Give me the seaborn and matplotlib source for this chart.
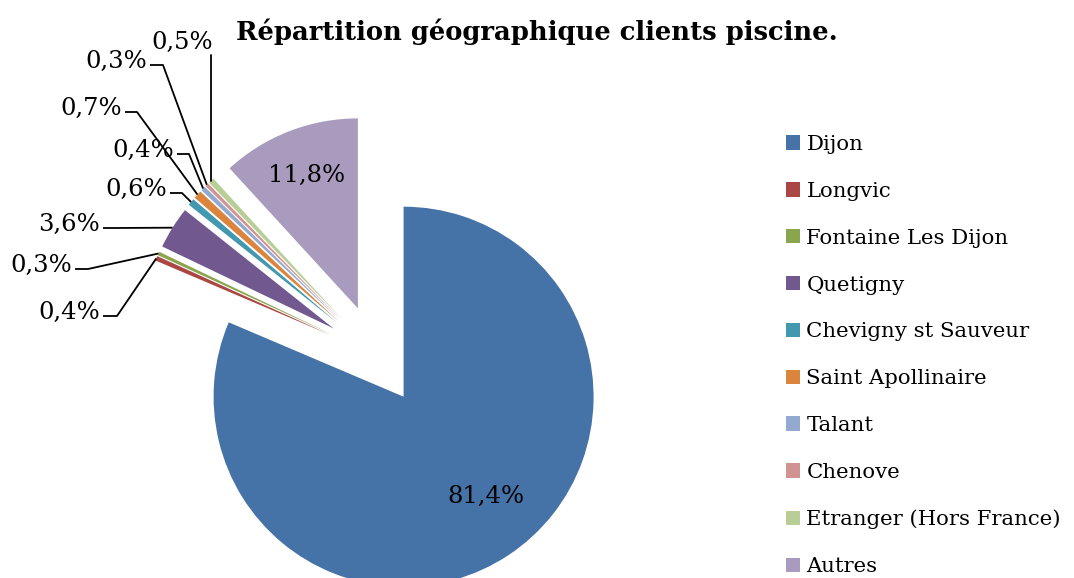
import numpy as np
import seaborn as sns
import matplotlib.pyplot as plt

# data
cities = ['Dijon', 'Longvic', 'Fontaine Les Dijon', 'Quetigny', 'Chevigny st Sauveur',
          'Saint Apollinaire', 'Talant', 'Chenove', 'Etranger (Hors France)', 'Autres']
shares = [81.4, 0.4, 0.3, 3.6, 0.6, 0.7, 0.4, 0.3, 0.5, 11.8]
colors = ['#4572A7', '#AA4643', '#89A54E', '#71588F', '#4198AF',
          '#DB843D', '#93A9CF', '#D19392', '#B9CD96', '#A99BBD']

sns.set_theme(style='white')
plt.rcParams['font.family'] = ['DejaVu Serif']
plt.rcParams['text.color'] = 'black'

W, H = 1074, 578
R = 190.0  # pie radius in pixels, used as the data unit


def px(x, y):
    # pixel position (origin top left) -> data coords
    return x / R, (H - y) / R


fig = plt.figure(figsize=(W / 100, H / 100), dpi=100)
ax = fig.add_axes([0, 0, 1, 1])

wedges, _ = ax.pie(shares, colors=colors, startangle=90, counterclock=False,
                   explode=[50 / R] * len(shares), center=px(376, 355), radius=1,
                   wedgeprops=dict(linewidth=0))
ax.set_xlim(0, W / R)
ax.set_ylim(0, H / R)
ax.set_aspect('equal')
ax.axis('off')


def fmt(v):
    return f'{v:.1f}'.replace('.', ',') + '%'


def edge_point(w, frac=1.0, shift=0.0):
    th = np.deg2rad((w.theta1 + w.theta2) / 2 + shift)
    cx, cy = w.center
    return cx + frac * w.r * np.cos(th), cy + frac * w.r * np.sin(th)


# labels inside the two big slices
for i, d, s in [(0, 0.68, 6), (9, 0.75, 0)]:
    x, y = edge_point(wedges[i], d, s)
    ax.text(x, y, fmt(shares[i]), ha='center', va='center', fontsize=17.5)

# outside labels with leader lines: start of leader (pixels) and stub length
leaders = {1: (103, 316, 14), 2: (75, 269, 13), 3: (103, 228, 12), 4: (170, 193, 12),
           5: (125, 112, 12), 6: (177, 154, 12), 7: (150, 65, 13)}
for i, (lx, ly, stub) in leaders.items():
    tx, ty = edge_point(wedges[i])
    x0, y0 = px(lx, ly)
    x1, y1 = px(lx + stub, ly)
    ax.plot([x0, x1, tx], [y0, y1, ty], color='black', lw=1.3, solid_capstyle='butt')
    gx, gy = px(lx - 3, ly - 4)
    ax.text(gx, gy, fmt(shares[i]), ha='right', va='center', fontsize=17.5)

# Etranger: vertical leader
tx, ty = edge_point(wedges[8])
x0, y0 = px(213, 55)
ax.plot([tx, tx], [y0, ty], color='black', lw=1.3)
gx, gy = px(213, 42)
ax.text(gx, gy, fmt(shares[8]), ha='right', va='center', fontsize=17.5)

fig.text(537 / W, 1 - 32 / H, 'Répartition géographique clients piscine.',
         ha='center', va='center', fontsize=18.6, fontweight='bold')

fig.legend(wedges, cities, loc='upper left', bbox_to_anchor=(786 / W, 1 - 135 / H),
           frameon=False, fontsize=15.3, handlelength=0.66, handleheight=0.66,
           handletextpad=0.3, labelspacing=1.31, borderpad=0, borderaxespad=0,
           labelcolor='black')

fig.savefig('out.png', dpi=100)
